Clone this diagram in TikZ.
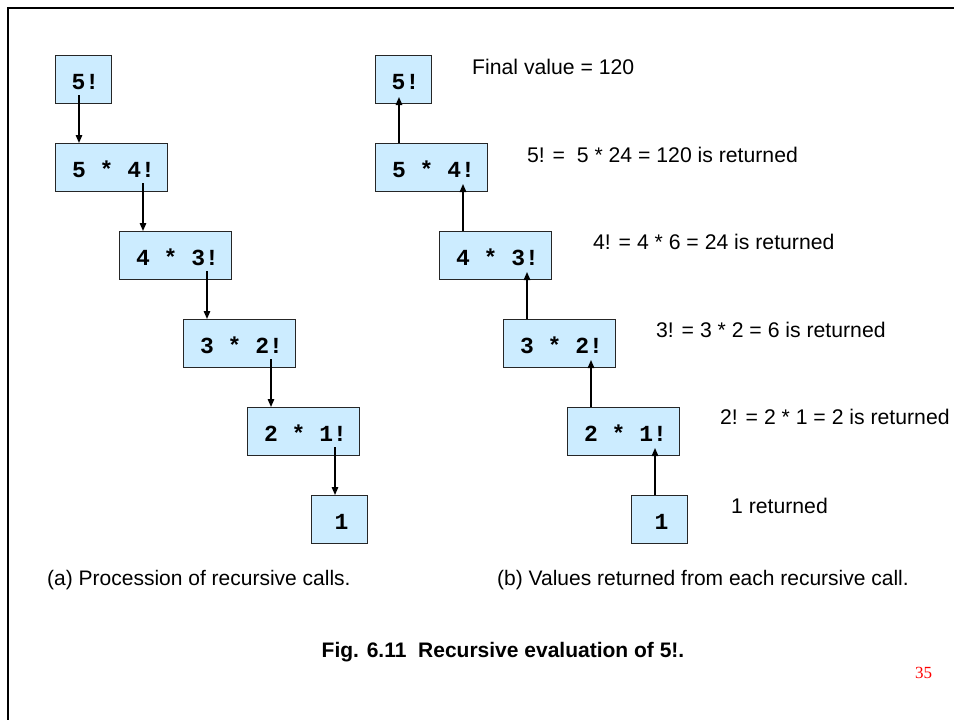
\documentclass[tikz,border=0pt]{standalone}
\usepackage{fontspec}
\setmainfont{Liberation Sans}
\newfontfamily\monof{Liberation Mono}
\newfontfamily\timesf{Liberation Serif}
\usetikzlibrary{arrows.meta}
\definecolor{boxblue}{RGB}{204,236,255}
\definecolor{pagered}{RGB}{255,0,0}
\tikzset{
  fbox/.style={draw=black!85, line width=0.9pt, fill=boxblue, inner sep=0pt, outer sep=0pt,
    minimum height=48pt, anchor=north west, text height=21pt, text depth=0pt,
    execute at begin node={\hspace*{5pt}},
    font=\monof\bfseries\fontsize{23}{25}\selectfont},
  narrow/.style={fbox, minimum width=56pt},
  wide/.style={fbox, minimum width=112pt},
  arr/.style={line width=1.4pt, -{Triangle[length=8pt,width=6.5pt]}},
  lbl/.style={anchor=west, inner sep=0pt, font=\fontsize{21.2}{24}\selectfont},
  captext/.style={anchor=base west, inner sep=0pt, font=\fontsize{21}{24}\selectfont}
}
\begin{document}
\begin{tikzpicture}[x=1pt,y=-1pt]
\useasboundingbox[fill=white] (0,0) rectangle (954,720);
\draw[line width=2.4pt] (954,8) -- (8,8) -- (8,720);

% left column
\node[narrow] (a1) at (55,55) {5!};
\node[wide] (a2) at (55,143) {5 * 4!};
\node[wide] (a3) at (119,231) {4 * 3!};
\node[wide] (a4) at (183,319) {3 * 2!};
\node[wide] (a5) at (247,407) {2 * 1!};
\node[narrow] (a6) at (311,495) {1};

\draw[arr] ([xshift=24pt,yshift=8pt]a1.south west) -- ([xshift=24pt]a2.north west);
\draw[arr] ([xshift=-24pt,yshift=8pt]a2.south east) -- ([xshift=24pt]a3.north west);
\draw[arr] ([xshift=-24pt,yshift=8pt]a3.south east) -- ([xshift=24pt]a4.north west);
\draw[arr] ([xshift=-24pt,yshift=8pt]a4.south east) -- ([xshift=24pt]a5.north west);
\draw[arr] ([xshift=-24pt,yshift=8pt]a5.south east) -- ([xshift=24pt]a6.north west);

% right column
\node[narrow] (b1) at (375,55) {5!};
\node[wide] (b2) at (375,143) {5 * 4!};
\node[wide] (b3) at (439,231) {4 * 3!};
\node[wide] (b4) at (503,319) {3 * 2!};
\node[wide] (b5) at (567,407) {2 * 1!};
\node[narrow] (b6) at (631,495) {1};

\draw[arr] ([xshift=24pt]b2.north west) -- ([xshift=24pt,yshift=6pt]b1.south west);
\draw[arr] ([xshift=24pt]b3.north west) -- ([xshift=-24pt,yshift=7pt]b2.south east);
\draw[arr] ([xshift=24pt]b4.north west) -- ([xshift=-24pt,yshift=7pt]b3.south east);
\draw[arr] ([xshift=24pt]b5.north west) -- ([xshift=-24pt,yshift=7pt]b4.south east);
\draw[arr] ([xshift=24pt]b6.north west) -- ([xshift=-24pt,yshift=7pt]b5.south east);

% labels
\node[lbl] (t1) at (472,67) {Final value = 120};
\node[lbl] (t2) at (527,155) {5! =~~5 * 24 = 120 is returned};
\node[lbl] (t3) at (593,242) {4! = 4 * 6 = 24 is returned};
\node[lbl] (t4) at (656,330) {3! = 3 * 2 = 6 is returned};
\node[lbl] (t5) at (720,417) {2! = 2 * 1 = 2 is returned};
\node[lbl] (t6) at (731,506) {1 returned};

% captions
\node[captext] (ca) at (47,585) {(a) Procession of recursive calls.};
\node[captext] (cb) at (497,585) {(b) Values returned from each recursive call.};
\node[anchor=base, inner sep=0pt, font=\bfseries\fontsize{21}{24}\selectfont] (fig) at (503,657) {Fig. 6.11\ \ Recursive evaluation of 5!.};
\node[anchor=base west, inner sep=0pt, text=pagered, font=\timesf\fontsize{17}{19}\selectfont] (pg) at (915,678) {35};
\end{tikzpicture}
\end{document}
